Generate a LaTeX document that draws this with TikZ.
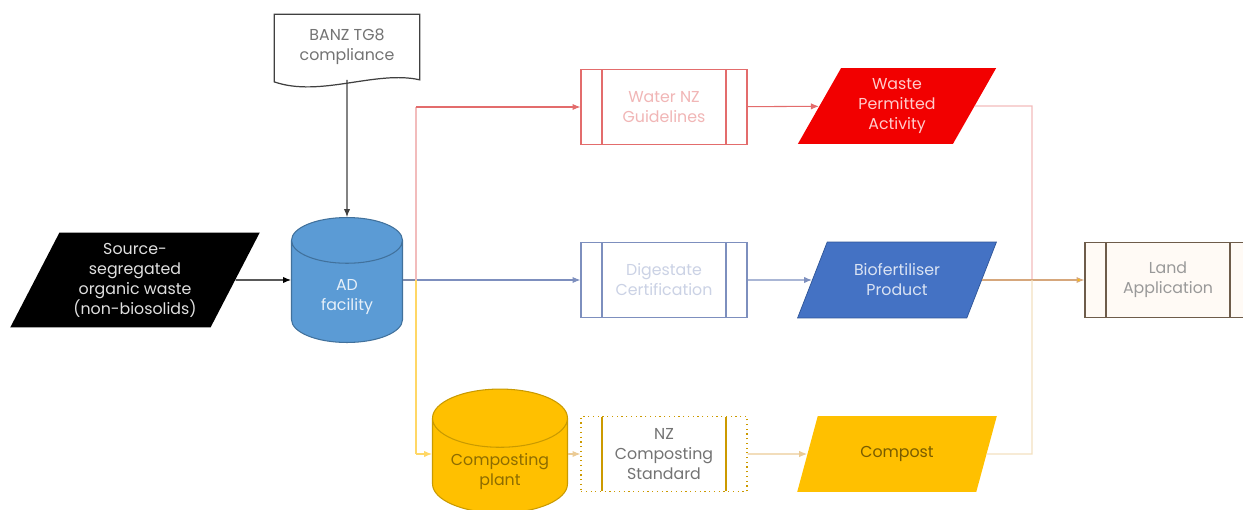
\documentclass[tikz,border=0pt]{standalone}
\usepackage{fontspec}
\setmainfont{Poppins}
\usetikzlibrary{arrows.meta,shapes.geometric,calc}

\definecolor{adblue}{HTML}{5B9BD5}
\definecolor{adedge}{HTML}{41719C}
\definecolor{bioblue}{HTML}{4472C4}
\definecolor{bioedge}{HTML}{2F5597}
\definecolor{gold}{HTML}{FFC000}
\definecolor{goldedge}{HTML}{C99A00}
\definecolor{wred}{HTML}{F20000}
\definecolor{redline}{HTML}{E36C6C}
\definecolor{pinkline}{HTML}{F2BCBC}
\definecolor{yelline}{HTML}{FFD766}
\definecolor{tanline}{HTML}{EBCB96}
\definecolor{blueline}{HTML}{7D8FBE}
\definecolor{orline}{HTML}{D6A77C}
\definecolor{brownedge}{HTML}{6E5C4A}

\begin{document}
\begin{tikzpicture}[x=0.02cm,y=-0.02cm,>={Latex[length=4.5pt,width=3.6pt]},
  every node/.style={font=\fontsize{9}{11.4}\selectfont,align=center},
  slab/.style={trapezium,trapezium left angle=62,trapezium right angle=118,
    trapezium stretches=true,minimum width=4cm,minimum height=1.52cm,inner sep=1pt},
  drum/.style={cylinder,shape border rotate=90,draw=#1,line width=0.6pt},
  procbox/.style={draw=#1,fill=white,line width=0.7pt,minimum width=3.32cm,minimum height=1.5cm,
    path picture={\draw[#1,solid,line width=0.7pt]
      ([xshift=0.42cm]path picture bounding box.north west) -- ([xshift=0.42cm]path picture bounding box.south west)
      ([xshift=-0.42cm]path picture bounding box.north east) -- ([xshift=-0.42cm]path picture bounding box.south east);}},
  link/.style={line width=0.6pt}]
  \useasboundingbox (0,0) rectangle (1243,510);

  \node[slab,minimum width=5cm,minimum height=1.9cm,fill=black,text=white!88!black] (src) at (135,280)
    {Source-\\segregated\\organic waste\\(non-biosolids)};
  \node[minimum width=2.9cm,minimum height=1.3cm,text=black!55] (banz) at (347,47) {BANZ TG8\\compliance};
  \draw[black!75,line width=0.7pt,fill=white] (banz.south west) -- (banz.north west) -- (banz.north east)
    -- (banz.south east) .. controls ($(banz.south east)+(-44,-10)$) and ($(banz.south west)+(46,18)$) .. ($(banz.south west)+(0,2)$) -- cycle;
  \node[text=black!55] at (banz) {BANZ TG8\\compliance};

  \node[drum=adedge,fill=adblue,text=white!85!adblue,minimum height=2.5cm,minimum width=2.22cm,aspect=0.72,
    anchor=shape center] (ad) at (347,280) {AD\\facility};
  \node[drum=goldedge,fill=gold,text=goldedge!70!black,minimum height=2.34cm,minimum width=2.7cm,aspect=0.53,
    anchor=shape center] (plant) at (500,451) {Composting\\plant};

  \node[procbox=redline,text=redline!50] (water) at (664,107) {Water NZ\\Guidelines};
  \node[procbox=blueline,text=blueline!40] (dig) at (664,280) {Digestate\\Certification};
  \node[procbox=gold!80!black,dotted,text=black!55] (nzstd) at (664,454) {NZ\\Composting\\Standard};
  \node[procbox=brownedge,fill=orange!4,text=black!40] (land) at (1168,280) {Land\\Application};

  \node[slab,fill=wred,text=white!80!red] (waste) at (897,106) {Waste\\Permitted\\Activity};
  \node[slab,fill=bioblue,draw=bioedge,text=white!80!bioblue] (bio) at (897,280) {Biofertiliser\\Product};
  \node[slab,fill=gold,text=goldedge!60!black] (compost) at (897,454) {Compost};

  \coordinate (jl) at (416,280);
  \coordinate (jr) at (1032,280);

  \draw[link,->,black!75] (banz) -- (ad);
  \draw[link,->] (src) -- (jl -| ad.west);
  \draw[link,blueline!70!gray] (jl -| ad.east) -- (jl);
  \draw[link,->,blueline] (jl) -- (dig);
  \draw[link,pinkline] (jl) -- (jl |- water);
  \draw[link,->,redline] (jl |- water) -- (water);
  \draw[link,yelline] (jl) -- (jl |- nzstd);
  \draw[link,->,yelline] (jl |- nzstd) -- (nzstd -| plant.west);
  \draw[link,->,tanline] (nzstd -| plant.east) -- (nzstd);
  \draw[link,->,redline] (water) -- (waste);
  \draw[link,pinkline] (waste) -- (jr |- waste) -- (jr);
  \draw[link,->,blueline] (dig) -- (bio);
  \draw[link,orline] (bio) -- (jr);
  \draw[link,->,orline,-{Latex[length=4.5pt,width=3.6pt,fill=gold]}] (jr) -- (land);
  \draw[link,->,tanline] (nzstd) -- (compost);
  \draw[link,tanline!60] (compost) -- (jr |- compost) -- (jr);
\end{tikzpicture}
\end{document}
